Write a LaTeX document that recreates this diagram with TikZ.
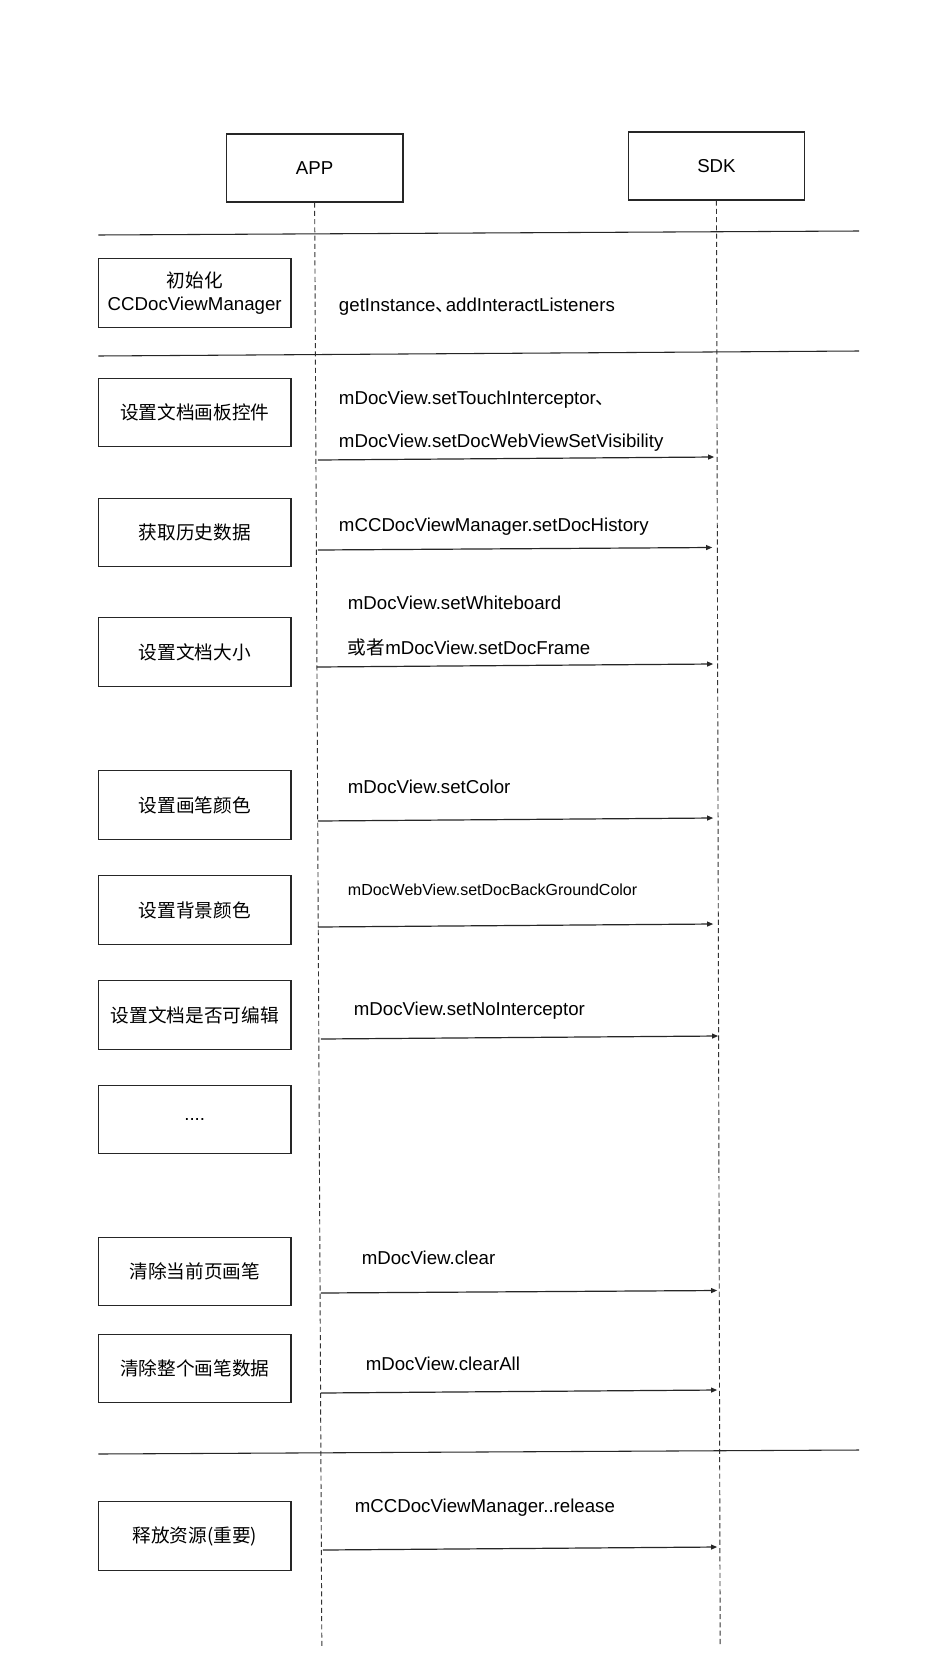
\documentclass[tikz,border=0pt]{standalone}
\usepackage{fontspec}
\setmainfont{Liberation Sans}
\newfontfamily\cjk{Noto Sans CJK SC}
\usetikzlibrary{arrows.meta}
\begin{document}
\begin{tikzpicture}[x=0.745pt,y=-0.75pt,
  actor/.style={draw=black!85, line width=0.8pt, minimum width=132.5pt, minimum height=51pt, inner sep=0pt, font=\fontsize{14}{17}\selectfont},
  lbox/.style={draw=black!85, line width=0.8pt, minimum width=144.5pt, minimum height=51.5pt, inner sep=0pt, align=center, font=\fontsize{14}{17}\selectfont},
  life/.style={draw=black!80, line width=0.7pt, dash pattern=on 3.8pt off 2.4pt},
  sep/.style={draw=black!85, line width=0.8pt},
  msg/.style={draw=black!85, line width=0.9pt, -{Triangle[length=4.5pt,width=3.6pt]}},
  mtxt/.style={anchor=west, inner sep=0pt, font=\fontsize{14}{17}\selectfont},
  stxt/.style={anchor=west, inner sep=0pt, font=\fontsize{12}{14}\selectfont}]
\fill[white] (0,0) rectangle (953.4,1670);
\useasboundingbox (0,0) rectangle (953.4,1670);

% actors
\node[actor] (app) at (316.75,168) {APP};
\node[actor] (sdk) at (721.25,166) {SDK};
\coordinate (appEnd) at (324,1647);
\coordinate (sdkEnd) at (725,1645);
\draw[life] (app.south) -- (appEnd);
\draw[life] (sdk.south) -- (sdkEnd);

% separators
\coordinate (s1a) at (99,235);  \coordinate (s1b) at (865,231);
\coordinate (s2a) at (99,356);  \coordinate (s2b) at (865,351);
\coordinate (s3a) at (99,1454); \coordinate (s3b) at (865,1450);
\draw[sep] (s1a) -- (s1b);
\draw[sep] (s2a) -- (s2b);
\draw[sep] (s3a) -- (s3b);

% left boxes
\node[lbox] (b1) at (196,293) {{\cjk 初始化}\\CCDocViewManager};
\node[lbox] (b2) at (196,412.5) {\cjk 设置文档画板控件};
\node[lbox] (b3) at (196,532.5) {\cjk 获取历史数据};
\node[lbox] (b4) at (196,652) {\cjk 设置文档大小};
\node[lbox] (b5) at (196,805) {\cjk 设置画笔颜色};
\node[lbox] (b6) at (196,910) {\cjk 设置背景颜色};
\node[lbox] (b7) at (196,1015) {\cjk 设置文档是否可编辑};
\node[lbox] (b8) at (196,1119.5) {....};
\node[lbox] (b9) at (196,1271.5) {\cjk 清除当前页画笔};
\node[lbox] (b10) at (196,1368.5) {\cjk 清除整个画笔数据};
\node[lbox] (b11) at (196,1536) {\cjk 释放资源(重要)};

% message texts
\node[mtxt] (t1) at (341,307) {getInstance{\cjk 、}\hspace{-0.45em}addInteractListeners};
\node[mtxt] (t2a) at (341,400) {mDocView.setTouchInterceptor{\cjk 、}};
\node[mtxt] (t2b) at (341,443) {mDocView.setDocWebViewSetVisibility};
\node[mtxt] (t3) at (341,527) {mCCDocViewManager.setDocHistory};
\node[mtxt] (t4a) at (350,603) {mDocView.setWhiteboard};
\node[mtxt] (t4b) at (350,647) {{\cjk 或者}mDocView.setDocFrame};
\node[mtxt] (t5) at (350,787) {mDocView.setColor};
\node[stxt] (t6) at (350,890) {mDocWebView.setDocBackGroundColor};
\node[mtxt] (t7) at (356,1011) {mDocView.setNoInterceptor};
\node[mtxt] (t9) at (364,1258) {mDocView.clear};
\node[mtxt] (t10) at (368,1364) {mDocView.clearAll};
\node[mtxt] (t11) at (357,1508) {mCCDocViewManager..release};

% message arrows
\coordinate (m2s) at (320,460);  \coordinate (m2e) at (719,457);
\coordinate (m3s) at (320,550);  \coordinate (m3e) at (717,547.5);
\coordinate (m4s) at (319,667);  \coordinate (m4e) at (718,664);
\coordinate (m5s) at (320,821);  \coordinate (m5e) at (718,818);
\coordinate (m6s) at (320,927);  \coordinate (m6e) at (718,924);
\coordinate (m7s) at (323,1039); \coordinate (m7e) at (723,1036);
\coordinate (m9s) at (323,1293); \coordinate (m9e) at (722,1290.5);
\coordinate (m10s) at (323,1393); \coordinate (m10e) at (722,1390);
\coordinate (m11s) at (325,1550); \coordinate (m11e) at (722,1547);
\foreach \i in {2,3,4,5,6,7,9,10,11} {\draw[msg] (m\i s) -- (m\i e);}
\end{tikzpicture}
\end{document}
